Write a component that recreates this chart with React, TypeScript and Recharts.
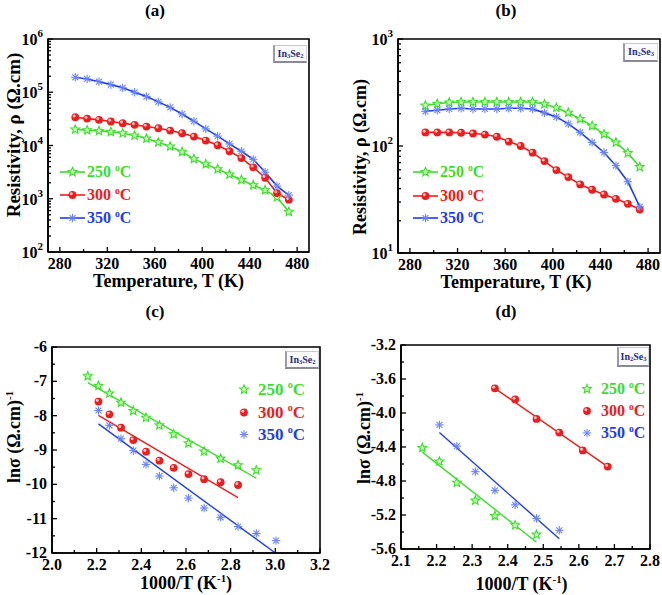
import React from 'react';
import { LineChart, ComposedChart, Line, Scatter, XAxis, YAxis, ReferenceArea } from 'recharts';

const SERIF = '"Liberation Serif", "Times New Roman", serif';
const INK = '#000';
const GREEN = '#3ade2a';
const RED = '#f01c1c';
const BLUE = '#1c3cf2';
const BLUE_MARK = '#6a84ff';
const TAG = '#2b2b80';

// (a), (b): resistivity vs temperature
const TEMPS = [293, 303, 313, 323, 333, 343, 353, 363, 373, 383, 393, 403, 413, 423, 433, 443, 453, 463, 473];
const RHO_A_250 = [20000, 19400, 18800, 18000, 17000, 15400, 13500, 11500, 9600, 7600, 5600, 4470, 3600, 2860, 2270, 1800, 1450, 1070, 570];
const RHO_A_300 = [34000, 32000, 30300, 28200, 26200, 24400, 22700, 21100, 19100, 17000, 14700, 12400, 10100, 7800, 5800, 3900, 2480, 1280, 960];
const RHO_A_350 = [191000, 178000, 158000, 139000, 121000, 100000, 83000, 66000, 52000, 39000, 28600, 20500, 15000, 10700, 7800, 5500, 3160, 1730, 1170];
const RHO_B_250 = [239, 248, 255, 258, 258, 258, 258, 258, 258, 258, 246, 228, 205, 179, 154, 129, 108, 86, 63.6];
const RHO_B_300 = [134, 134, 134, 133, 131, 128, 122, 110, 100, 86.6, 72.3, 59.6, 51.2, 43.7, 39, 35.2, 32.1, 28.8, 25.5];
const RHO_B_350 = [211, 216, 222, 225, 222, 222, 222, 225, 225, 222, 204, 187, 161, 134, 108, 87, 65.5, 46.4, 27];

const T_MAJOR = [280, 320, 360, 400, 440, 480];
const T_MINOR = [300, 340, 380, 420, 460];
const DECADES_A = [2, 3, 4, 5, 6];
const DECADES_B = [1, 2, 3];

// (c), (d): ln sigma vs 1000/T
const INV_T = [2.160, 2.208, 2.257, 2.309, 2.364, 2.421, 2.481, 2.545, 2.611, 2.681, 2.755, 2.833, 2.915, 3.003];
const LN_C_250 = [-6.85, -7.13, -7.35, -7.62, -7.86, -8.06, -8.28, -8.54, -8.80, -9.04, -9.25, -9.44, -9.59];
const LN_C_300 = [-7.59, -7.96, -8.35, -8.71, -9.05, -9.31, -9.52, -9.70, -9.85, -9.94, -10.02];
const LN_C_350 = [-7.85, -8.28, -8.67, -9.02, -9.42, -9.76, -10.10, -10.40, -10.69, -10.96, -11.23, -11.43, -11.64];
const FIT_C_250 = { x: [2.160, 2.915], y: [-7.04, -9.82] };
const FIT_C_300 = { x: [2.208, 2.833], y: [-7.99, -10.39] };
const FIT_C_350 = { x: [2.208, 3.0], y: [-8.24, -12.0] };

const LN_D_250 = [-4.41, -4.57, -4.82, -5.03, -5.21, -5.32, -5.43];
const LN_D_300 = [-3.71, -3.84, -4.07, -4.23, -4.44, -4.63];
const LN_D_350 = [-4.14, -4.39, -4.69, -4.91, -5.08, -5.24, -5.38];
const FIT_D_250 = { x: [2.160, 2.481], y: [-4.46, -5.52] };
const FIT_D_300 = { x: [2.364, 2.681], y: [-3.71, -4.63] };
const FIT_D_350 = { x: [2.208, 2.545], y: [-4.23, -5.48] };

const C_X_MAJOR = [2.0, 2.2, 2.4, 2.6, 2.8, 3.0, 3.2];
const C_X_MINOR = [2.1, 2.3, 2.5, 2.7, 2.9, 3.1];
const C_Y_MAJOR = [-12, -11, -10, -9, -8, -7, -6];
const C_Y_MINOR = [-11.5, -10.5, -9.5, -8.5, -7.5, -6.5];
const D_X_MAJOR = [2.1, 2.2, 2.3, 2.4, 2.5, 2.6, 2.7, 2.8];
const D_X_MINOR = [2.15, 2.25, 2.35, 2.45, 2.55, 2.65, 2.75];
const D_Y_MAJOR = [-5.6, -5.2, -4.8, -4.4, -4.0, -3.6, -3.2];
const D_Y_MINOR = [-5.4, -5.0, -4.6, -4.2, -3.8, -3.4];

const tableA = TEMPS.map((t, i) => ({ t, s250: RHO_A_250[i], s300: RHO_A_300[i], s350: RHO_A_350[i] }));
const tableB = TEMPS.map((t, i) => ({ t, s250: RHO_B_250[i], s300: RHO_B_300[i], s350: RHO_B_350[i] }));
const pts = (xs: number[], ys: number[]) => ys.map((y, i) => ({ x: xs[i], y }));
const fit = (f: { x: number[]; y: number[] }) => pts(f.x, f.y);

const logTicks = (decades: number[]) => {
  const out: number[] = [];
  decades.forEach((d, i) => {
    out.push(Math.pow(10, d));
    if (i < decades.length - 1) for (let k = 2; k < 10; k++) out.push(k * Math.pow(10, d));
  });
  return out.sort((a, b) => a - b);
};

const near = (arr: number[], v: number) => arr.some((a) => Math.abs(a - v) < 1e-6 * Math.max(1, Math.abs(a)));

function bottomTick(major: number[], fmt: (v: number) => string) {
  return (p: any) => {
    const v = p.payload.value;
    const isMajor = near(major, v);
    return (
      <g>
        <line x1={p.x} x2={p.x} y1={p.y} y2={p.y - (isMajor ? 5 : 3)} stroke={INK} strokeWidth={1.3} />
        {isMajor && (
          <text x={p.x} y={p.y + 17} textAnchor="middle" fontFamily={SERIF} fontWeight="bold" fontSize={16} fill={INK}>
            {fmt(v)}
          </text>
        )}
      </g>
    );
  };
}

function leftTick(major: number[], fmt: (v: number) => string) {
  return (p: any) => {
    const v = p.payload.value;
    const isMajor = near(major, v);
    return (
      <g>
        <line x1={p.x} x2={p.x + (isMajor ? 5 : 3)} y1={p.y} y2={p.y} stroke={INK} strokeWidth={1.3} />
        {isMajor && (
          <text x={p.x - 5} y={p.y + 5} textAnchor="end" fontFamily={SERIF} fontWeight="bold" fontSize={16} fill={INK}>
            {fmt(v)}
          </text>
        )}
      </g>
    );
  };
}

function leftLogTick(decades: number[]) {
  return (p: any) => {
    const v = p.payload.value;
    const exp = Math.round(Math.log10(v));
    const isMajor = Math.abs(Math.log10(v) - exp) < 1e-6;
    return (
      <g>
        <line x1={p.x} x2={p.x + (isMajor ? 5 : 3)} y1={p.y} y2={p.y} stroke={INK} strokeWidth={1.3} />
        {isMajor && decades.includes(exp) && (
          <text x={p.x - 5} y={p.y + 6} textAnchor="end" fontFamily={SERIF} fontWeight="bold" fontSize={16} fill={INK}>
            <tspan>10</tspan>
            <tspan dy={-8} fontSize={11}>{exp}</tspan>
          </text>
        )}
      </g>
    );
  };
}

function StarMark({ cx, cy, r = 4.6 }: { cx: number; cy: number; r?: number }) {
  const p: string[] = [];
  for (let k = 0; k < 10; k++) {
    const a = -Math.PI / 2 + (k * Math.PI) / 5;
    const rr = k % 2 ? r * 0.45 : r;
    p.push(`${cx + rr * Math.cos(a)},${cy + rr * Math.sin(a)}`);
  }
  return <polygon points={p.join(' ')} fill="#c6ffb4" stroke={GREEN} strokeWidth={1.1} />;
}

function BallMark({ cx, cy, r = 3.9 }: { cx: number; cy: number; r?: number }) {
  return (
    <g>
      <circle cx={cx} cy={cy} r={r} fill={RED} />
      <circle cx={cx - r * 0.3} cy={cy - r * 0.3} r={r * 0.38} fill="#ffc4c4" />
    </g>
  );
}

function AsteriskMark({ cx, cy, r = 4.2 }: { cx: number; cy: number; r?: number }) {
  const d = r * 0.707;
  return (
    <g stroke={BLUE_MARK} strokeWidth={1.1}>
      <line x1={cx - r} x2={cx + r} y1={cy} y2={cy} />
      <line x1={cx} x2={cx} y1={cy - r} y2={cy + r} />
      <line x1={cx - d} x2={cx + d} y1={cy - d} y2={cy + d} />
      <line x1={cx - d} x2={cx + d} y1={cy + d} y2={cy - d} />
    </g>
  );
}

const starDot = (p: any) => <StarMark key={`s${p.index}`} cx={p.cx} cy={p.cy} />;
const ballDot = (p: any) => <BallMark key={`b${p.index}`} cx={p.cx} cy={p.cy} />;
const astDot = (p: any) => <AsteriskMark key={`a${p.index}`} cx={p.cx} cy={p.cy} />;

const axisLine = { stroke: INK, strokeWidth: 1.6 };

function ResistivityPanel({ data, decades, yAxisWidth, right, xHeight }: any) {
  const lo = Math.pow(10, decades[0]);
  const hi = Math.pow(10, decades[decades.length - 1]);
  return (
    <LineChart width={331} height={300} data={data} margin={{ top: 39, right, bottom: 0, left: 0 }}>
      <XAxis
        dataKey="t"
        type="number"
        domain={[270, 490]}
        ticks={[...T_MAJOR, ...T_MINOR].sort((a, b) => a - b)}
        interval={0}
        height={xHeight}
        tickSize={0}
        tickMargin={0}
        tickLine={false}
        axisLine={axisLine}
        tick={bottomTick(T_MAJOR, String)}
        allowDataOverflow
      />
      <YAxis
        type="number"
        scale="log"
        domain={[lo, hi]}
        ticks={logTicks(decades)}
        interval={0}
        width={yAxisWidth}
        tickSize={0}
        tickMargin={0}
        tickLine={false}
        axisLine={axisLine}
        tick={leftLogTick(decades)}
        allowDataOverflow
      />
      <ReferenceArea x1={270} x2={490} y1={lo} y2={hi} fill="none" fillOpacity={0} stroke={INK} strokeWidth={1.6} />
      <Line dataKey="s250" stroke={GREEN} strokeWidth={1.6} dot={starDot} isAnimationActive={false} />
      <Line dataKey="s300" stroke={RED} strokeWidth={1.6} dot={ballDot} isAnimationActive={false} />
      <Line dataKey="s350" stroke={BLUE} strokeWidth={1.6} dot={astDot} isAnimationActive={false} />
    </LineChart>
  );
}

function ArrheniusPanel({ xMajor, xMinor, yMajor, yMinor, yFmt, series, fits, yAxisWidth, right, top, xHeight }: any) {
  const xd = [xMajor[0], xMajor[xMajor.length - 1]];
  const yd = [yMajor[0], yMajor[yMajor.length - 1]];
  return (
    <ComposedChart width={331} height={295} margin={{ top, right, bottom: 0, left: 0 }}>
      <XAxis
        dataKey="x"
        type="number"
        domain={xd}
        ticks={[...xMajor, ...xMinor].sort((a: number, b: number) => a - b)}
        interval={0}
        height={xHeight}
        tickSize={0}
        tickMargin={0}
        tickLine={false}
        axisLine={axisLine}
        tick={bottomTick(xMajor, (v) => v.toFixed(1))}
        allowDataOverflow
      />
      <YAxis
        dataKey="y"
        type="number"
        domain={yd}
        ticks={[...yMajor, ...yMinor].sort((a: number, b: number) => a - b)}
        interval={0}
        width={yAxisWidth}
        tickSize={0}
        tickMargin={0}
        tickLine={false}
        axisLine={axisLine}
        tick={leftTick(yMajor, yFmt)}
        allowDataOverflow
      />
      <ReferenceArea x1={xd[0]} x2={xd[1]} y1={yd[0]} y2={yd[1]} fill="none" fillOpacity={0} stroke={INK} strokeWidth={1.6} />
      <Line data={fits[0]} dataKey="y" stroke={GREEN} strokeWidth={1.4} dot={false} isAnimationActive={false} />
      <Line data={fits[1]} dataKey="y" stroke={RED} strokeWidth={1.4} dot={false} isAnimationActive={false} />
      <Line data={fits[2]} dataKey="y" stroke={BLUE} strokeWidth={1.4} dot={false} isAnimationActive={false} />
      <Scatter data={series[0]} shape={(p: any) => <StarMark cx={p.cx} cy={p.cy} />} isAnimationActive={false} />
      <Scatter data={series[1]} shape={(p: any) => <BallMark cx={p.cx} cy={p.cy} />} isAnimationActive={false} />
      <Scatter data={series[2]} shape={(p: any) => <AsteriskMark cx={p.cx} cy={p.cy} />} isAnimationActive={false} />
    </ComposedChart>
  );
}

const abs = (left: number, top: number): React.CSSProperties => ({ position: 'absolute', left, top });
const supStyle: React.CSSProperties = { fontSize: '0.6em', position: 'relative', top: '-0.65em' };
const subStyle: React.CSSProperties = { fontSize: '0.65em', position: 'relative', top: '0.35em' };

function Label({ cx, cy, size = 18, rotate = false, children }: any) {
  return (
    <div
      style={{
        ...abs(cx, cy),
        transform: `translate(-50%, -50%)${rotate ? ' rotate(-90deg)' : ''}`,
        fontFamily: SERIF,
        fontWeight: 'bold',
        fontSize: size,
        whiteSpace: 'nowrap',
        lineHeight: 1,
        color: INK,
      }}
    >
      {children}
    </div>
  );
}

function Tag({ left, top, w, h, a, b }: any) {
  return (
    <div
      style={{
        ...abs(left, top),
        width: w,
        height: h,
        boxSizing: 'border-box',
        borderLeft: '2px solid #9a9aa8',
        borderTop: '1px solid #c8c8d0',
        borderBottom: '2px solid #8a8a96',
        borderRight: '1px solid #d4d4dc',
        background: '#fbfbff',
        color: TAG,
        fontFamily: SERIF,
        fontWeight: 'bold',
        fontSize: 10,
        display: 'flex',
        alignItems: 'center',
        justifyContent: 'center',
        lineHeight: 1,
      }}
    >
      In<span style={subStyle}>{a}</span>Se<span style={subStyle}>{b}</span>
    </div>
  );
}

const LEGEND = [
  { label: '250', color: GREEN, Mark: StarMark },
  { label: '300', color: RED, Mark: BallMark },
  { label: '350', color: BLUE, Mark: AsteriskMark },
];

function LegendBlock({ left, rows, withLine, size, gap }: any) {
  const w = withLine ? 25 : 16;
  return (
    <>
      {LEGEND.map((e, i) => (
        <div
          key={e.label}
          style={{
            ...abs(left, rows[i]),
            transform: 'translateY(-50%)',
            display: 'flex',
            alignItems: 'center',
            fontFamily: SERIF,
            fontWeight: 'bold',
            fontSize: size,
            color: e.color,
            whiteSpace: 'nowrap',
            lineHeight: 1,
          }}
        >
          <svg width={w} height={12} style={{ display: 'block', marginRight: gap }}>
            {withLine && <line x1={0} x2={w} y1={6} y2={6} stroke={e.color} strokeWidth={1.6} />}
            <e.Mark cx={w / 2} cy={6} />
          </svg>
          <span>
            {e.label} <span style={supStyle}>o</span>C
          </span>
        </div>
      ))}
    </>
  );
}

const RHO_TITLE = <>Resistivity, ρ (Ω.cm)</>;
const LN_TITLE = (
  <>
    lnσ (Ω.cm)<span style={supStyle}>-1</span>
  </>
);
const INV_T_TITLE = (
  <>
    1000/T (K<span style={supStyle}>-1</span>)
  </>
);

export default function App() {
  return (
    <div style={{ position: 'absolute', left: 0, top: 0, width: 662, height: 595, background: '#fff', overflow: 'hidden' }}>
      <div style={abs(0, 0)}>
        <ResistivityPanel data={tableA} decades={DECADES_A} yAxisWidth={48} right={22} xHeight={48} />
      </div>
      <div style={abs(331, 0)}>
        <ResistivityPanel data={tableB} decades={DECADES_B} yAxisWidth={67} right={2} xHeight={47} />
      </div>
      <div style={abs(0, 300)}>
        <ArrheniusPanel
          xMajor={C_X_MAJOR}
          xMinor={C_X_MINOR}
          yMajor={C_Y_MAJOR}
          yMinor={C_Y_MINOR}
          yFmt={(v: number) => String(v)}
          series={[pts(INV_T.slice(0, 13), LN_C_250), pts(INV_T.slice(1, 12), LN_C_300), pts(INV_T.slice(1, 14), LN_C_350)]}
          fits={[fit(FIT_C_250), fit(FIT_C_300), fit(FIT_C_350)]}
          yAxisWidth={52}
          right={11}
          top={47}
          xHeight={42}
        />
      </div>
      <div style={abs(331, 300)}>
        <ArrheniusPanel
          xMajor={D_X_MAJOR}
          xMinor={D_X_MINOR}
          yMajor={D_Y_MAJOR}
          yMinor={D_Y_MINOR}
          yFmt={(v: number) => v.toFixed(1)}
          series={[pts(INV_T.slice(0, 7), LN_D_250), pts(INV_T.slice(4, 10), LN_D_300), pts(INV_T.slice(1, 8), LN_D_350)]}
          fits={[fit(FIT_D_250), fit(FIT_D_300), fit(FIT_D_350)]}
          yAxisWidth={70}
          right={12}
          top={45}
          xHeight={46}
        />
      </div>

      <Label cx={155} cy={10} size={17}>(a)</Label>
      <Label cx={506} cy={10} size={17}>(b)</Label>
      <Label cx={155} cy={311} size={17}>(c)</Label>
      <Label cx={506} cy={311} size={17}>(d)</Label>

      <Label cx={168.5} cy={281}>Temperature, T (K)</Label>
      <Label cx={516} cy={282}>Temperature, T (K)</Label>
      <Label cx={186} cy={583}>{INV_T_TITLE}</Label>
      <Label cx={521.5} cy={584}>{INV_T_TITLE}</Label>

      <Label cx={12.5} cy={135} size={19} rotate>{RHO_TITLE}</Label>
      <Label cx={360} cy={157} size={18} rotate>{RHO_TITLE}</Label>
      <Label cx={14} cy={437} rotate>{LN_TITLE}</Label>
      <Label cx={363.5} cy={438} rotate>{LN_TITLE}</Label>

      <Tag left={273} top={45} w={34} h={18} a="3" b="2" />
      <Tag left={623} top={43} w={35} h={19} a="2" b="3" />
      <Tag left={285} top={351} w={34} h={18} a="3" b="2" />
      <Tag left={617} top={347} w={32} h={20} a="2" b="3" />

      <LegendBlock left={60} rows={[172, 195, 218]} withLine size={16} gap={2} />
      <LegendBlock left={413} rows={[172, 196, 218]} withLine size={16} gap={2} />
      <LegendBlock left={236} rows={[389, 412, 434]} size={17} gap={6} />
      <LegendBlock left={579} rows={[389, 411, 433]} size={16} gap={6} />
    </div>
  );
}
